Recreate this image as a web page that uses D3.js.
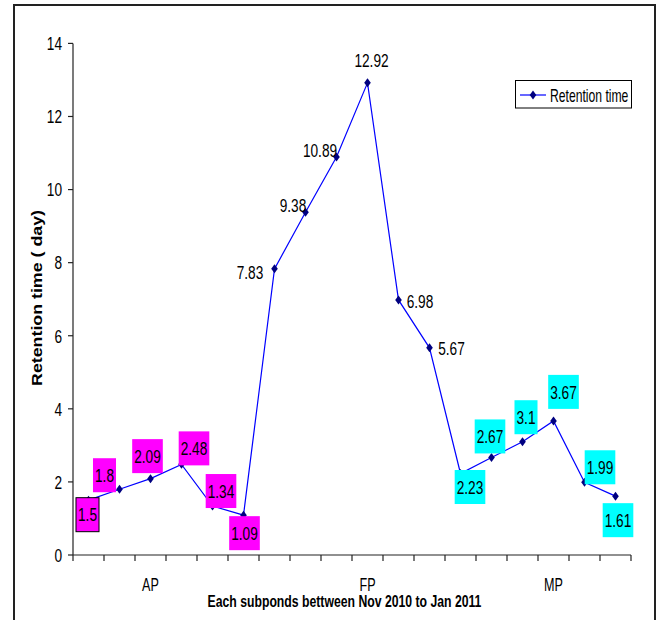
<!DOCTYPE html>
<html>
<head>
<meta charset="utf-8">
<script src="https://cdn.jsdelivr.net/npm/d3@7"></script>
<style>
  html, body { margin: 0; padding: 0; background: #fff; }
  svg { display: block; }
</style>
</head>
<body>
<svg id="chart" width="659" height="620"></svg>
<script>
// Subpond retention times, Nov 2010 – Jan 2011
const categories = ["", "", "AP", "", "", "", "", "", "", "FP", "", "", "", "", "", "MP", "", ""];
const pondGroup  = ["AP", "AP", "AP", "AP", "AP", "AP",
                    "FP", "FP", "FP", "FP", "FP", "FP",
                    "MP", "MP", "MP", "MP", "MP", "MP"];
const retention  = [1.5, 1.8, 2.09, 2.48, 1.34, 1.09,
                    7.83, 9.38, 10.89, 12.92, 6.98, 5.67,
                    2.23, 2.67, 3.1, 3.67, 1.99, 1.61];
const yTicks = [0, 2, 4, 6, 8, 10, 12, 14];
const seriesName = "Retention time";

// label placement relative to each point (label centre offset, px)
const labelOffsets = [[-1, 14.5], [-15, -14], [-3, -22.5], [12.5, -16], [8.5, -15], [1, 18],
                      [-24.5, 3], [-12.5, -7], [-16.5, -7], [4, -23], [21.5, 1], [22, 0.5],
                      [9.5, 13.5], [-1.5, -21], [3.5, -24.5], [10, -29], [15.5, -15], [2.5, 24]];
const boxFill = { AP: "#ff00ff", FP: null, MP: "#00ffff" };

const svg = d3.select("#chart");
const FONT = "'Liberation Sans', Arial, sans-serif";
const SX = 0.72; // condensed text

function addText(g, x, y, str, opt = {}) {
  const size = opt.size || 19;
  const sx = opt.sx || SX;
  const rot = opt.rotate ? ` rotate(${opt.rotate})` : "";
  return g.append("text")
    .attr("transform", `translate(${x},${y}) scale(${sx},1)${rot}`)
    .attr("font-family", FONT)
    .attr("font-size", size)
    .attr("font-weight", opt.weight || "normal")
    .attr("text-anchor", opt.anchor || "middle")
    .attr("fill", "#000")
    .text(str);
}

// outer frame
svg.append("path")
  .attr("d", "M14,620 L14,5 L655,5 L655,620")
  .attr("fill", "none").attr("stroke", "#222").attr("stroke-width", 2);

const plot = { left: 73, right: 631, top: 43.4, bottom: 555 };

const x = d3.scaleBand().domain(d3.range(retention.length)).range([plot.left, plot.right]).padding(0);
const y = d3.scaleLinear().domain([0, 14]).range([plot.bottom, plot.top]);

// y axis
const yAxis = svg.append("g");
yAxis.append("line").attr("x1", plot.left).attr("x2", plot.left)
  .attr("y1", plot.top).attr("y2", plot.bottom).attr("stroke", "#222").attr("stroke-width", 1.2);
yTicks.forEach(t => {
  yAxis.append("line").attr("x1", plot.left - 5).attr("x2", plot.left)
    .attr("y1", y(t)).attr("y2", y(t)).attr("stroke", "#222").attr("stroke-width", 1.2);
  addText(yAxis, plot.left - 11, y(t) + 0.358 * 19, String(t), { anchor: "end" });
});

// x axis
const xAxis = svg.append("g");
xAxis.append("line").attr("x1", plot.left).attr("x2", plot.right)
  .attr("y1", plot.bottom).attr("y2", plot.bottom).attr("stroke", "#222").attr("stroke-width", 1.2);
const bounds = d3.range(retention.length).map(i => x(i)).concat([x(retention.length - 1) + x.bandwidth()]);
bounds.forEach(b => {
  xAxis.append("line").attr("x1", b).attr("x2", b)
    .attr("y1", plot.bottom).attr("y2", plot.bottom + 6).attr("stroke", "#222").attr("stroke-width", 1.2);
});
categories.forEach((c, i) => {
  if (c) addText(xAxis, x(i) + x.bandwidth() / 2, 590.5, c, { size: 17.5 });
});

// axis titles
addText(svg, 344.5, 607, "Each subponds bettween Nov 2010 to Jan 2011", { size: 17, weight: "bold" });
addText(svg, 41.5, 298, "Retention time ( day)", { size: 17.8, weight: "bold", rotate: -90, sx: 0.8 });

// series line
const cx = i => x(i) + x.bandwidth() / 2;
const line = d3.line().x((d, i) => cx(i)).y(d => y(d));
svg.append("path").datum(retention)
  .attr("d", line).attr("fill", "none").attr("stroke", "#0000ff").attr("stroke-width", 1.2);

const diamond = "M0,-4.5 L3.3,0 L0,4.5 L-3.3,0 Z";
svg.append("g").selectAll("path").data(retention).join("path")
  .attr("d", diamond)
  .attr("transform", (d, i) => `translate(${cx(i)},${y(d)})`)
  .attr("fill", "#000080");

// data labels
const labels = svg.append("g");
retention.forEach((v, i) => {
  const lx = cx(i) + labelOffsets[i][0];
  const ly = y(v) + labelOffsets[i][1];
  const fill = boxFill[pondGroup[i]];
  const box = fill ? labels.append("rect") : null;
  const t = addText(labels, lx, ly + 0.358 * 19, String(v));
  if (box) {
    const w = t.node().getComputedTextLength() * SX + 4;
    box.attr("x", lx - w / 2).attr("y", ly - 17).attr("width", w).attr("height", 34)
      .attr("fill", fill)
      .attr("stroke", i === 0 ? "#000" : "none").attr("stroke-width", 1);
  }
});

// legend
const lg = svg.append("g");
lg.append("rect").attr("x", 515.5).attr("y", 80.5).attr("width", 116).attr("height", 27.5)
  .attr("fill", "#fff").attr("stroke", "#000").attr("stroke-width", 1);
lg.append("line").attr("x1", 520).attr("x2", 546).attr("y1", 95).attr("y2", 95)
  .attr("stroke", "#0000ff").attr("stroke-width", 1.2);
lg.append("path").attr("d", diamond).attr("transform", "translate(533,95)").attr("fill", "#000080");
addText(lg, 550, 95 + 0.358 * 19, seriesName, { anchor: "start", sx: 0.64 });
</script>
</body>
</html>
